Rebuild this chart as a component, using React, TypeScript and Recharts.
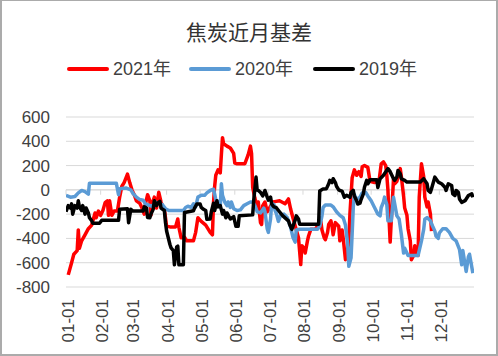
import React from 'react';
import { LineChart, Line, XAxis, YAxis, CartesianGrid, ReferenceLine } from 'recharts';

const monthTicks = [0, 31, 59, 90, 120, 151, 181, 212, 243, 273, 304, 334];
const monthLabels = ['01-01', '02-01', '03-01', '04-01', '05-01', '06-01', '07-01', '08-01', '09-01', '10-01', '11-01', '12-01'];
const yTicks = [-800, -600, -400, -200, 0, 200, 400, 600];
const seriesNames = ['2021年', '2020年', '2019年'];

const days2021 = [2, 5, 7, 10, 11, 12, 14, 17, 20, 23, 26, 27, 29, 31, 33, 35, 37, 38, 39, 41, 43, 46, 48, 50, 52, 55, 57, 59, 61, 63, 66, 68, 70, 71, 73, 75, 76, 78, 79, 81, 83, 85, 87, 88, 90, 93, 98, 100, 101, 103, 106, 108, 114, 116, 118, 121, 125, 129, 131, 132, 133, 134, 136, 138, 139, 140, 141, 144, 147, 150, 151, 153, 160, 163, 165, 166, 167, 169, 171, 172, 174, 175, 176, 178, 180, 182, 185, 188, 191, 196, 199, 201, 203, 205, 208, 210, 211, 213, 214, 216, 217, 219, 223, 226, 228, 229, 231, 232, 234, 235, 237, 238, 239, 241, 244, 245, 247, 248, 250, 251, 253, 254, 256, 258, 260, 262, 264, 265, 267, 270, 272, 276, 280, 282, 284, 286, 287, 288, 289, 290, 291, 293, 294, 296, 299, 300, 302, 303, 305, 306, 308, 309, 311, 312, 314, 315, 316, 318, 320, 321, 323, 324, 326, 327];
const vals2021 = [-700, -600, -530, -500, -330, -480, -420, -370, -320, -290, -190, -230, -175, -210, -170, -105, -90, -210, -90, -210, -175, -175, -60, 30, 60, 130, 60, 0, -40, -90, -110, -150, -200, -120, -40, -90, -210, -90, -60, -150, -20, -100, -150, -160, -300, -305, -305, -240, -310, -395, -390, -420, -420, -350, -230, -260, -290, -350, -370, -100, 30, 120, 165, 140, 290, 430, 380, 360, 345, 300, 220, 215, 215, 290, 360, 300, 20, -70, -130, -100, -270, -285, -130, -100, -180, -150, -100, -95, -90, -115, -75, -160, -230, -295, -395, -615, -460, -480, -520, -420, -380, -325, -325, -285, -260, -330, -395, -410, -350, -285, -255, -300, -370, -270, -300, -420, -330, -400, -575, -540, -430, -200, 100, 165, 120, 150, 110, 190, 200, 185, 70, 60, 70, 215, 230, 200, 120, 0, -240, -430, -250, 90, 50, 70, 175, 110, -50, -150, -210, -320, -420, -575, -540, -460, -520, -540, -60, 215, 110, -60, -140, -100, -200, -340];

const days2020 = [0, 4, 8, 11, 14, 17, 20, 21, 45, 47, 48, 54, 58, 60, 63, 66, 69, 71, 74, 77, 80, 83, 86, 89, 92, 105, 107, 109, 112, 114, 116, 118, 121, 124, 126, 129, 132, 133, 135, 136, 138, 139, 140, 142, 144, 145, 147, 148, 150, 153, 156, 159, 162, 165, 167, 169, 171, 174, 177, 178, 180, 181, 183, 184, 186, 187, 188, 190, 192, 195, 198, 201, 203, 205, 206, 209, 225, 227, 229, 230, 232, 237, 239, 242, 245, 248, 250, 252, 253, 255, 256, 257, 258, 260, 263, 265, 268, 270, 273, 276, 279, 281, 282, 284, 285, 287, 288, 291, 293, 296, 298, 300, 302, 303, 306, 315, 318, 320, 321, 323, 326, 328, 330, 331, 333, 334, 337, 340, 343, 346, 349, 352, 354, 355, 358, 360, 361, 364];
const vals2020 = [-45, -60, -55, -25, -5, -15, -35, 55, 55, -40, 10, 15, 0, -30, -60, -80, -85, -115, -125, -135, -100, -115, -120, -155, -170, -170, -145, -135, -145, -115, -140, -60, -45, -45, -25, -5, 5, -35, -125, -95, -140, 50, -45, -100, -130, -100, -145, -100, -155, -170, -165, -130, -115, -100, -100, -130, -180, -190, -150, -180, -320, -350, -240, -110, -120, -170, -190, -260, -210, -200, -230, -310, -390, -430, -330, -325, -325, -300, -214, -145, -125, -125, -140, -180, -210, -230, -290, -450, -630, -560, -360, -145, -40, -80, -60, -25, -20, -50, -90, -145, -200, -214, -145, -100, -60, -120, -255, -255, -61, -214, -240, -367, -520, -480, -540, -540, -420, -325, -242, -228, -255, -300, -340, -380, -400, -355, -320, -320, -350, -400, -420, -490, -617, -500, -672, -550, -530, -686];

const days2019 = [0, 2, 4, 5, 6, 8, 10, 11, 12, 14, 15, 17, 18, 20, 21, 23, 24, 30, 32, 47, 48, 55, 56, 58, 60, 69, 70, 72, 73, 75, 76, 78, 79, 81, 82, 84, 85, 88, 89, 90, 93, 94, 96, 97, 99, 100, 101, 105, 106, 114, 115, 117, 120, 121, 123, 125, 126, 129, 130, 132, 133, 135, 136, 138, 140, 141, 143, 144, 147, 150, 152, 154, 155, 167, 168, 170, 171, 172, 174, 176, 178, 180, 181, 183, 184, 186, 188, 191, 194, 199, 200, 202, 203, 205, 206, 208, 209, 226, 227, 230, 233, 235, 236, 238, 239, 241, 242, 244, 245, 247, 249, 251, 254, 255, 257, 258, 260, 261, 263, 264, 266, 267, 269, 270, 272, 278, 279, 281, 284, 287, 288, 290, 293, 294, 296, 297, 299, 300, 303, 305, 317, 320, 321, 323, 324, 326, 327, 330, 333, 336, 339, 340, 342, 345, 346, 348, 349, 351, 352, 354, 357, 360, 363, 364];
const vals2019 = [-180, -130, -150, -115, -200, -130, -150, -90, -140, -170, -130, -200, -150, -190, -230, -255, -275, -275, -250, -250, -160, -155, -270, -160, -175, -175, -140, -150, -228, -230, -200, -160, -89, -130, -110, -95, -150, -170, -270, -339, -450, -478, -500, -617, -470, -464, -617, -617, -186, -172, -150, -117, -117, -145, -160, -170, -242, -240, -180, -110, -170, -90, -140, -130, -200, -170, -230, -190, -240, -220, -300, -300, -214, -206, -80, 105, 0, -5, -20, -50, -5, -60, -85, -60, -117, -140, -145, -180, -214, -255, -283, -325, -300, -250, -214, -240, -283, -283, -10, 8, 10, 50, 78, 60, 92, 60, 30, 0, -5, -10, -61, -45, -61, -20, -5, -50, -89, -117, -110, -80, -33, 22, 78, 50, 83, 83, 20, 92, 120, 161, 175, 150, 92, 78, 105, 160, 133, 92, 78, 64, 64, 92, 78, 50, -5, -20, 10, 105, 64, 50, 22, -5, 50, 36, -33, -47, -5, -20, -75, -103, -89, -47, -33, -61];

const toData = (days: number[], vals: number[]) => days.map((d, i) => ({ d, v: vals[i] }));
const data2021 = toData(days2021, vals2021);
const data2020 = toData(days2020, vals2020);
const data2019 = toData(days2019, vals2019);

const colors = ['#FF0000', '#5B9BD5', '#000000'];
const textColor = '#404040';
const numFont = '"Liberation Sans", Arial, "Noto Sans CJK SC", sans-serif';

const XTick = (props: any) => {
  const { x, y, payload } = props;
  const idx = monthTicks.indexOf(payload.value);
  const tx = x + 2;
  const ty = y + 12;
  return (
    <text
      x={tx}
      y={ty}
      transform={`rotate(-90 ${tx} ${ty})`}
      textAnchor="end"
      dominantBaseline="central"
      fontSize={17}
      fill={textColor}
      fontFamily={numFont}
    >
      {monthLabels[idx]}
    </text>
  );
};

const legendLeft = [67, 189, 313];

export default function App() {
  return (
    <div style={{ position: 'absolute', left: 0, top: 0, width: 498, height: 356, background: '#fff', overflow: 'hidden' }}>
      <div style={{ position: 'absolute', left: 0, top: 0 }}>
        <LineChart width={498} height={356} margin={{ top: 117, right: 24, left: 0, bottom: 0 }}>
          <CartesianGrid vertical={false} stroke="#D9D9D9" strokeWidth={1} />
          <XAxis
            type="number"
            dataKey="d"
            domain={[0, 365]}
            ticks={monthTicks}
            interval={0}
            allowDataOverflow
            tickLine={false}
            axisLine={false}
            tickSize={0}
            tickMargin={0}
            height={69}
            tick={(p: any) => <XTick {...p} />}
          />
          <YAxis
            type="number"
            domain={[-800, 600]}
            ticks={yTicks}
            interval={0}
            allowDataOverflow
            width={66}
            tickLine={false}
            axisLine={false}
            tickSize={0}
            tickMargin={16}
            tick={{ fontSize: 17, fill: textColor, fontFamily: numFont }}
          />
          <ReferenceLine y={0} stroke="#D9D9D9" strokeWidth={1} />
          {monthTicks.map((t) => (
            <ReferenceLine
              key={t}
              segment={[{ x: t, y: 0 }, { x: t, y: -40 }]}
              stroke="#D9D9D9"
              strokeWidth={1}
            />
          ))}
          <Line data={data2021} dataKey="v" type="linear" stroke={colors[0]} strokeWidth={3.5} dot={false} isAnimationActive={false} strokeLinejoin="round" name={seriesNames[0]} />
          <Line data={data2020} dataKey="v" type="linear" stroke={colors[1]} strokeWidth={3.5} dot={false} isAnimationActive={false} strokeLinejoin="round" name={seriesNames[1]} />
          <Line data={data2019} dataKey="v" type="linear" stroke={colors[2]} strokeWidth={3.5} dot={false} isAnimationActive={false} strokeLinejoin="round" name={seriesNames[2]} />
        </LineChart>
      </div>
      <div
        style={{
          position: 'absolute',
          left: 0,
          top: 19,
          width: 498,
          height: 24,
          lineHeight: '24px',
          textAlign: 'center',
          fontSize: 21,
          color: '#333',
          fontFamily: '"Noto Sans CJK SC", sans-serif',
        }}
      >
        焦炭近月基差
      </div>
      {seriesNames.map((n, i) => (
        <React.Fragment key={n}>
          <div style={{ position: 'absolute', left: legendLeft[i], top: 67, width: 42, height: 4, borderRadius: 2, background: colors[i] }} />
          <div
            style={{
              position: 'absolute',
              left: legendLeft[i] + 46,
              top: 58,
              height: 22,
              lineHeight: '22px',
              fontSize: 18,
              color: textColor,
              fontFamily: numFont,
              whiteSpace: 'nowrap',
            }}
          >
            {n}
          </div>
        </React.Fragment>
      ))}
      <div
        style={{
          position: 'absolute',
          left: 0,
          top: 0,
          width: 498,
          height: 356,
          boxSizing: 'border-box',
          borderStyle: 'solid',
          borderColor: '#ABABAB',
          borderWidth: '1px 2px 2px 2px',
          pointerEvents: 'none',
        }}
      />
    </div>
  );
}
